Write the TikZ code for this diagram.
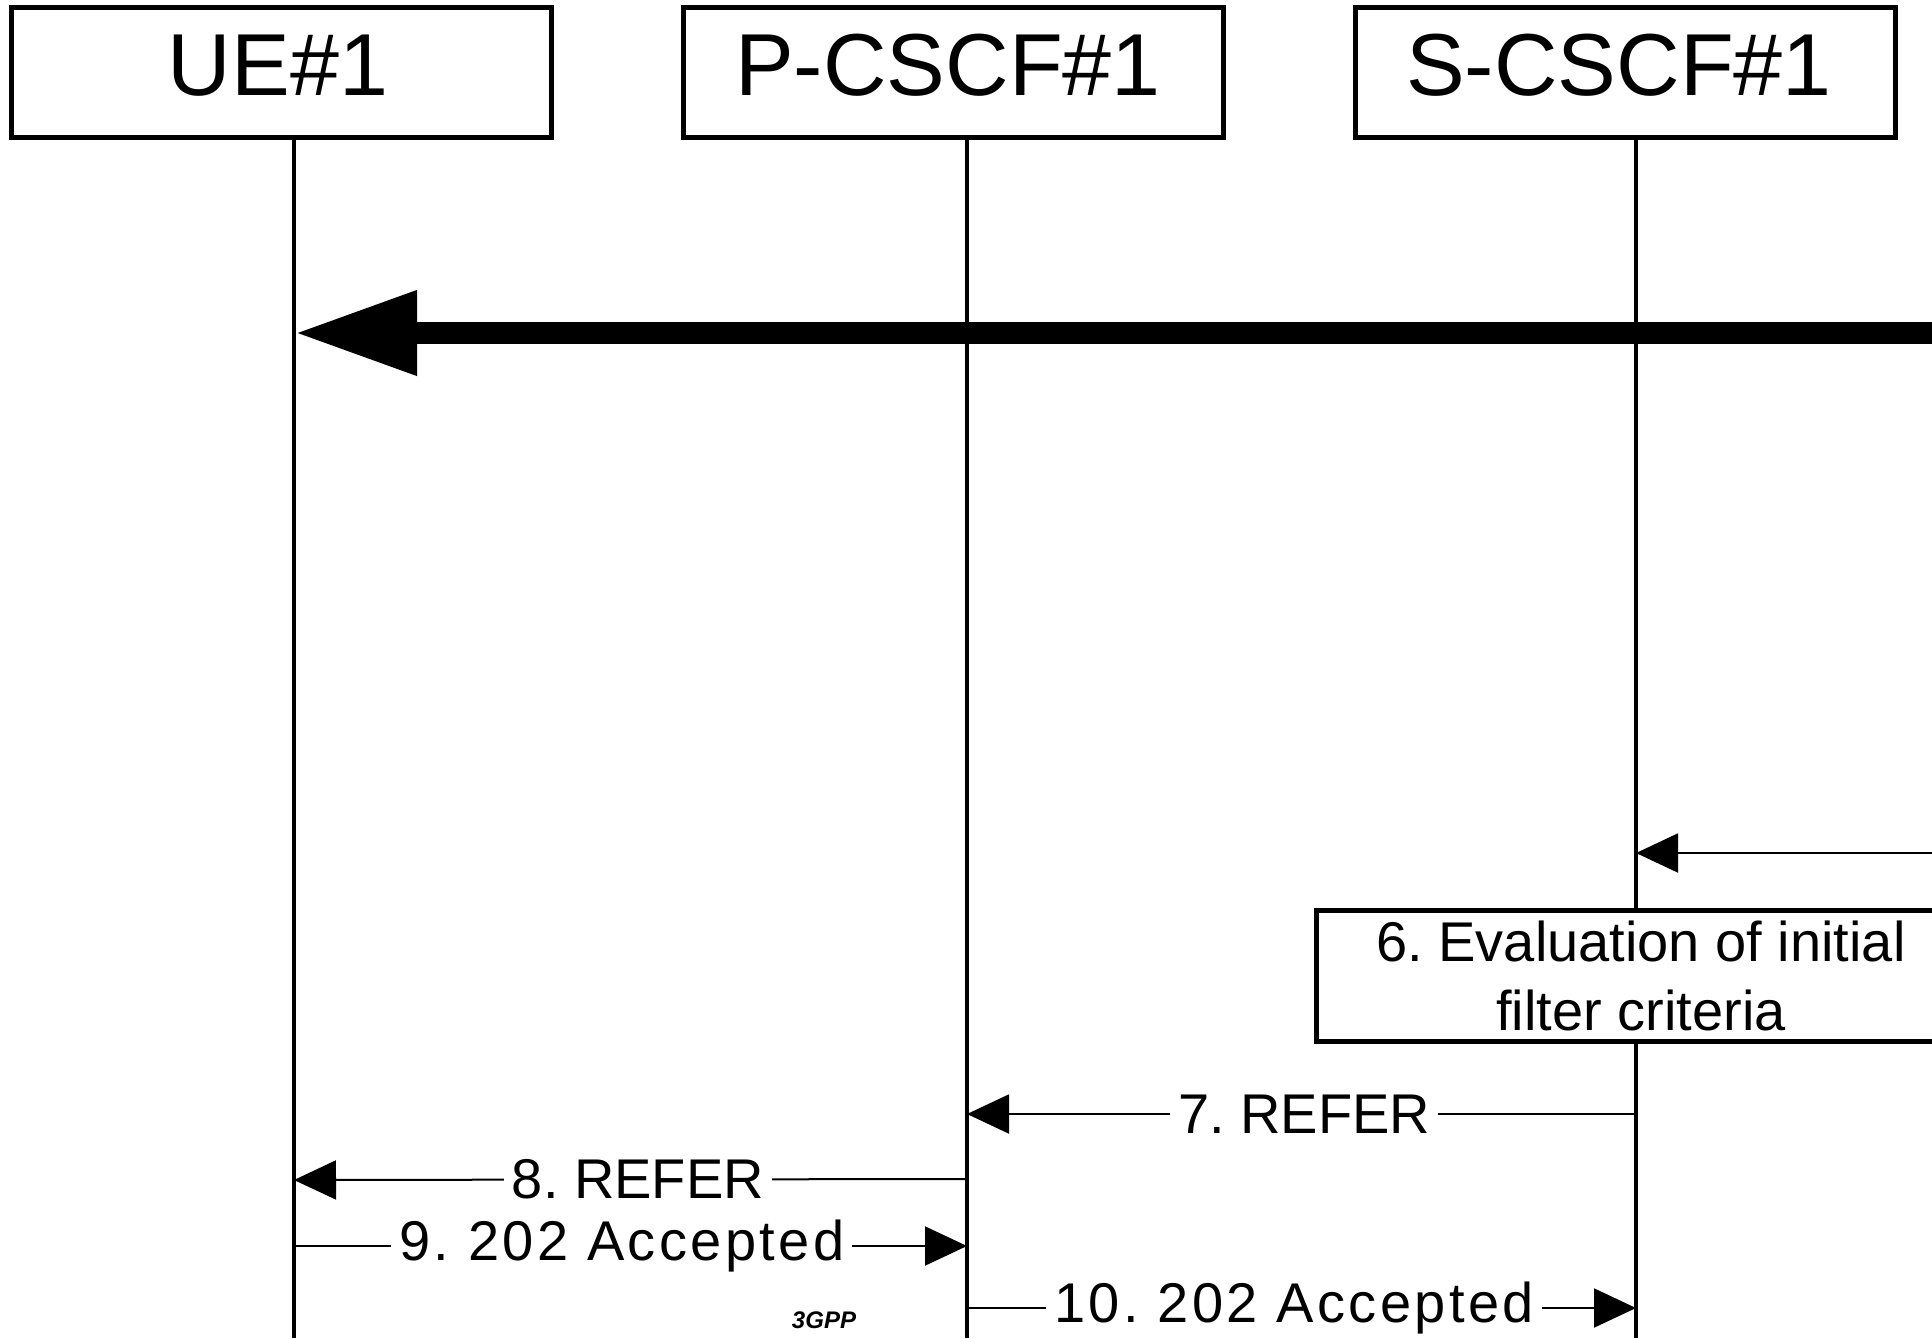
\documentclass[tikz,border=0pt]{standalone}
\usepackage{fontspec}
\setmainfont{Liberation Sans}
\usetikzlibrary{arrows.meta}
\frenchspacing
\begin{document}
\begin{tikzpicture}[x=0.5pt,y=-0.5pt,
  entity/.style={draw,line width=2.5pt,fill=white,minimum width=270pt,minimum height=65pt,inner sep=0pt},
  hdr/.style={font=\fontsize{44}{50}\selectfont,anchor=base,inner sep=0pt},
  life/.style={line width=2pt},
  msg/.style={line width=1pt,-{Triangle[length=21pt,width=19.5pt]}},
  bigmsg/.style={line width=11.35pt,-{Triangle[length=61.5pt,width=39.5pt]}},
  lbl/.style={fill=white,inner xsep=4pt,inner ysep=1pt,font=\fontsize{28}{34}\selectfont},
  wide/.style={font=\fontsize{28}{34}\selectfont\addfontfeatures{LetterSpace=6}},
  proc/.style={draw,line width=2.5pt,fill=white,minimum width=325pt,minimum height=65.5pt,align=center,font=\fontsize{28}{34.5}\selectfont,inner sep=0pt},
  tag/.style={font=\fontsize{12}{14}\selectfont\bfseries\itshape}]
\useasboundingbox (0,0) rectangle (1932,1338);
\clip (0,0) rectangle (1932,1338);

% lifeline bottoms
\coordinate (ueB) at (294,1338);
\coordinate (pB) at (967,1338);
\coordinate (sB) at (1636,1338);

% entity boxes
\node[entity] (UE) at (281,73) {};
\node[entity] (P) at (953,73) {};
\node[entity] (S) at (1625,73) {};

% lifelines
\draw[life] (ueB |- UE.south) -- (ueB);
\draw[life] (pB |- P.south) -- (pB);
\draw[life] (sB |- S.south) -- (sB);

% header texts
\node[hdr] (UEt) at (278,96) {UE\#1};
\node[hdr] (Pt) at (948,96) {P-CSCF\#1};
\node[hdr] (St) at (1619,96) {S-CSCF\#1};

% big arrow
\coordinate (bigR) at (1945,333);
\draw[bigmsg] (bigR) -- (ueB |- 0,333);

% arrow into S-CSCF
\coordinate (m5R) at (1945,853);
\draw[msg] (m5R) -- (sB |- 0,853);

% evaluation box
\node[proc] (ev) at (1641,975.5) {6. Evaluation of initial\\filter criteria};

% messages
\draw[msg] (sB |- 0,1114) -- node[lbl,pos=0.496] (l7) {7. REFER} (pB |- 0,1114);
\draw[msg] (pB |- 0,1179) -- node[lbl,pos=0.489] (l8) {8. REFER} (ueB |- 0,1180);
\draw[msg] (ueB |- 0,1246) -- node[lbl,wide,pos=0.487] (l9) {9. 202 Accepted} (pB |- 0,1246);
\draw[msg] (pB |- 0,1308) -- node[lbl,wide,pos=0.489] (l10) {10. 202 Accepted} (sB |- 0,1308);

\node[tag] (g) at (824,1320) {3GPP};
\end{tikzpicture}
\end{document}
